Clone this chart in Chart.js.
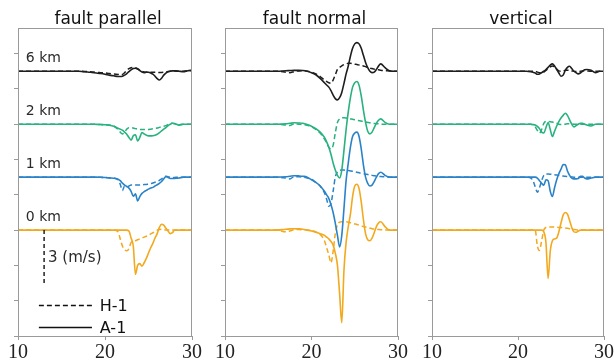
<!DOCTYPE html>
<html><head><meta charset="utf-8">
<script src="https://cdn.jsdelivr.net/npm/chart.js@4.4.1/dist/chart.umd.min.js"></script>
<style>
html,body{margin:0;padding:0;background:#fff;}
#wrap{position:relative;width:614px;height:360px;overflow:hidden;}
canvas{position:absolute;left:0;top:0;}
</style></head><body><div id="wrap">
<canvas id="c0" width="614" height="360"></canvas>
<canvas id="c1" width="614" height="360"></canvas>
<canvas id="c2" width="614" height="360"></canvas>
</div>
<script>
// ---------- DATA ----------
const times = [10,16,17,17.5,18,18.5,19,19.5, 20,20.5,21,21.5,21.75, 22,22.25,22.5,22.75, 23,23.25,23.5,23.75, 24,24.25,24.5,24.75, 25,25.25,25.5,25.75, 26,26.25,26.5,26.75, 27,27.25,27.5,27.75, 28,28.5,29,29.5,30];
const components = ['fault parallel','fault normal','vertical'];
const stations = ['0 km','1 km','2 km','6 km'];
const stationOffsets = [0,3,6,9];
const xTicks = [10,20,30];
const yTicks = [-6,-4,-2,0,2,4,6,8,10];
const scaleBarValue = 3; // (m/s)

// fault parallel
const fp_A1_0 = [0,0,0,0,0,0,0,0, 0,0,0,0,0, 0,0,0,-0.05, -0.45,-0.9,-2.5,-2.0, -1.9,-2.05,-1.85,-1.6, -1.3,-1.0,-0.75,-0.45, -0.2,0.15,0.33,0.28, 0.1,-0.05,-0.2,-0.15, 0,0,0,0,0];
const fp_H1_0 = [0,0,0,0,0,0,0,0, 0,0,0,-0.1,-0.5, -0.9,-1.1,-1.17,-1.05, -0.7,-0.65,-0.6,-0.55, -0.5,-0.45,-0.4,-0.35, -0.3,-0.22,-0.15,-0.08, 0,0.04,0.05,0.03, 0,0,0,0, 0,0,0,0,0];
const fp_A1_1 = [0,0,0,0,0,0,0,-0.01, -0.02,-0.04,-0.06,-0.12,-0.2, -0.34,-0.45,-0.53,-0.62, -0.8,-1.08,-0.95,-1.35, -1.1,-0.92,-0.82,-0.75, -0.68,-0.62,-0.58,-0.5, -0.43,-0.35,-0.25,-0.1, 0.03,-0.02,-0.08,-0.08, -0.07,-0.05,0,0,0.02];
const fp_H1_1 = [0,0,0,0,0,0,0,-0.01, -0.02,-0.04,-0.06,-0.15,-0.4, -0.75,-0.5,-0.55,-0.5, -0.45,-0.45,-0.45,-0.45, -0.45,-0.44,-0.42,-0.41, -0.4,-0.37,-0.33,-0.29, -0.25,-0.18,-0.1,-0.02, 0.05,0.03,-0.02,-0.03, -0.02,0,0,0,0];
const fp_A1_2 = [0,0,0,0,0,0,-0.01,-0.02, -0.03,-0.06,-0.12,-0.23,-0.28, -0.34,-0.45,-0.57,-0.75, -0.9,-0.66,-0.6,-0.95, -0.75,-0.47,-0.55,-0.62, -0.66,-0.66,-0.65,-0.62, -0.57,-0.48,-0.38,-0.28, -0.19,-0.08,0,0.05, 0.04,-0.05,0,0,0];
const fp_H1_2 = [0,0,0,0,0,0,-0.01,-0.02, -0.03,-0.05,-0.1,-0.3,-0.45, -0.55,-0.45,-0.28,-0.2, -0.2,-0.22,-0.25,-0.28, -0.3,-0.3,-0.3,-0.3, -0.3,-0.28,-0.26,-0.24, -0.22,-0.18,-0.15,-0.12, -0.08,-0.02,0.04,0.05, 0.02,-0.03,0,0,0];
const fp_A1_6 = [0,0,0,-0.02,-0.04,-0.07,-0.1,-0.13, -0.17,-0.22,-0.26,-0.3,-0.3, -0.28,-0.22,-0.13,-0.02, 0.08,0.15,0.17,0.12, 0.04,-0.04,-0.08,-0.05, -0.06,-0.1,-0.16,-0.28, -0.42,-0.5,-0.4,-0.22, -0.1,-0.03,0,0.02, 0.02,0,-0.02,0.03,0.06];
const fp_H1_6 = [0,0,0,-0.01,-0.02,-0.04,-0.06,-0.08, -0.1,-0.13,-0.15,-0.18,-0.2, -0.18,-0.08,0.05,0.15, 0.2,0.22,0.2,0.14, 0.07,0,-0.04,-0.06, -0.06,-0.06,-0.05,-0.05, -0.06,-0.07,-0.07,-0.06, -0.04,-0.02,0,0.02, 0.02,0,0,0.02,0.03];

// fault normal
const fn_A1_0 = [0,0,0.05,0.07,0.08,0.07,0.05,0, -0.05,-0.12,-0.2,-0.3,-0.4, -0.5,-0.65,-0.85,-1.3, -2.0,-3.6,-5.25,-2.3, -0.7,0.2,0.9,1.9, 2.5,2.6,2.35,1.6, 0.6,-0.2,-0.55,-0.6, -0.45,-0.15,0.2,0.4, 0.47,0.2,0,0,0];
const fn_H1_0 = [0,0,-0.1,-0.05,0.02,0.03,0.02,0, -0.03,-0.1,-0.25,-0.6,-1.0, -1.4,-1.85,-1.2,-0.2, 0.3,0.45,0.48,0.48, 0.47,0.45,0.42,0.38, 0.35,0.32,0.28,0.24, 0.2,0.17,0.14,0.11, 0.08,0.06,0.05,0.03, 0.02,0.01,0,0,0];
const fn_A1_1 = [0,0,0.02,0.05,0.08,0.07,0.05,0, -0.15,-0.3,-0.5,-0.8,-1.0, -1.2,-1.55,-2.0,-2.6, -3.3,-3.95,-3.3,-1.8, -0.2,0.8,1.7,2.3, 2.5,2.55,2.3,1.6, 0.7,0,-0.35,-0.5, -0.45,-0.25,0,0.2, 0.28,0.1,0,0,0];
const fn_H1_1 = [0,0,-0.05,-0.1,0.03,0.02,0,-0.05, -0.12,-0.3,-0.5,-0.9,-1.25, -1.65,-1.5,-0.8,0, 0.3,0.38,0.4,0.4, 0.38,0.37,0.35,0.33, 0.3,0.28,0.25,0.22, 0.2,0.17,0.15,0.12, 0.1,0.08,0.06,0.05, 0.03,0.02,0,0,0];
const fn_A1_2 = [0,0,0.02,0.05,0.08,0.07,0.05,-0.02, -0.12,-0.25,-0.45,-0.75,-1.0, -1.3,-1.7,-2.2,-2.6, -2.9,-3.05,-2.6,-1.5, -0.3,0.7,1.5,2.1, 2.35,2.42,2.2,1.6, 0.8,0.1,-0.4,-0.55, -0.45,-0.2,0.05,0.22, 0.3,0.1,0,0,0];
const fn_H1_2 = [0,0,-0.05,-0.08,0.02,0,-0.02,-0.06, -0.15,-0.3,-0.5,-0.85,-1.05, -1.3,-1.4,-1.2,-0.5, 0.1,0.3,0.36,0.36, 0.35,0.33,0.3,0.28, 0.25,0.22,0.2,0.18, 0.15,0.12,0.1,0.08, 0.05,0.04,0.03,0.02, 0,0,0,0,0];
const fn_A1_6 = [0,0,0.03,0.04,0.05,0.05,0.04,0, -0.08,-0.2,-0.4,-0.65,-0.78, -0.9,-1.1,-1.35,-1.55, -1.62,-1.5,-1.2,-0.7, -0.15,0.3,0.85,1.3, 1.55,1.62,1.55,1.3, 0.9,0.5,0.2,0, -0.08,-0.05,0.1,0.3, 0.42,0.2,0.03,0,0];
const fn_H1_6 = [0,0,-0.05,-0.08,-0.02,0.02,0.03,0, -0.05,-0.15,-0.3,-0.5,-0.58, -0.65,-0.68,-0.5,-0.2, 0.1,0.22,0.3,0.38, 0.42,0.45,0.45,0.43, 0.4,0.38,0.35,0.32, 0.3,0.26,0.22,0.18, 0.15,0.12,0.1,0.08, 0.05,0.03,0.02,0,0];

// vertical
const vt_A1_0 = [0,0,0,0,0,0,0,0, 0,0,0,0,0, 0,0,0,0, -0.1,-0.7,-2.75,-1.2, -0.6,-0.5,-0.45,-0.1, 0.4,0.85,1.0,0.9, 0.55,0.15,-0.1,-0.12, -0.05,0,0,0, 0,0,0,0,0];
const vt_H1_0 = [0,0,0,0,0,0,0,0, 0,0,0,0,0, 0,-0.9,-1.15,-0.6, 0,0.15,0.18,0.18, 0.18,0.17,0.16,0.15, 0.15,0.13,0.12,0.1, 0.08,0.06,0.04,0.02, 0,0,0,0, 0,0,0,0,0];
const vt_A1_1 = [0,0,0,0,0,0,0,0, 0,0,0,0,0, 0,-0.05,-0.2,-0.35, -0.45,-0.15,-0.2,-0.8, -1.1,-0.6,-0.15,0.2, 0.45,0.72,0.7,0.35, 0.1,-0.05,-0.1,-0.1, -0.08,0.05,0.05,-0.05, -0.1,-0.05,0,0,0];
const vt_H1_1 = [0,0,0,0,0,0,0,0, 0,0,0,-0.05,-0.2, -0.55,-0.85,-0.6,-0.2, 0.1,0.18,0.18,0.17, 0.15,0.14,0.12,0.1, 0.08,0.06,0.05,0.03, 0.02,0.01,0,0, 0,0,0,0, 0,0,0,0,0];
const vt_A1_2 = [0,0,0,0,0,0,0,0, 0,0,0,0,-0.02, -0.05,-0.12,-0.25,-0.45, -0.5,-0.2,0.1,-0.3, -0.7,-0.4,-0.1,0.15, 0.35,0.5,0.62,0.5, 0.25,0,-0.15,-0.08, 0,0.05,0.05,0, -0.05,-0.1,0,0,0];
const vt_H1_2 = [0,0,0,0,0,0,0,0, 0,0,0,0,-0.05, -0.15,-0.35,-0.5,-0.3, 0.05,0.15,0.15,0.14, 0.12,0.08,0.05,0, -0.02,-0.02,0,0.02, 0.02,0.02,0,0, 0,0,0,0, 0,0,0,0,0];
const vt_A1_6 = [0,0,0,0,0,0,0,0, 0,0,0,-0.03,-0.06, -0.1,-0.17,-0.15,-0.08, 0,0.1,0.22,0.35, 0.42,0.3,0.1,-0.1, -0.28,-0.22,0.05,0.22, 0.28,0.15,0,-0.08, -0.15,-0.1,0,0.08, 0.1,0.05,-0.08,0,0];
const vt_H1_6 = [0,0,0,0,0,0,0,0, 0,0,0,0,0, 0,-0.05,-0.08,-0.1, -0.05,0.05,0.15,0.25, 0.3,0.25,0.12,0.02, 0,0.02,0.05,0.06, 0.05,0.02,0,-0.02, -0.02,0,0.02,0.03, 0.02,0,0,0,0];

const A1 = [[fp_A1_0,fp_A1_1,fp_A1_2,fp_A1_6],[fn_A1_0,fn_A1_1,fn_A1_2,fn_A1_6],[vt_A1_0,vt_A1_1,vt_A1_2,vt_A1_6]];
const H1 = [[fp_H1_0,fp_H1_1,fp_H1_2,fp_H1_6],[fn_H1_0,fn_H1_1,fn_H1_2,fn_H1_6],[vt_H1_0,vt_H1_1,vt_H1_2,vt_H1_6]];

// ---------- STYLE / LAYOUT ----------
const stationColors = ['#f2a91e','#2a83c9','#27b27e','#1e1e1e'];
const panelBoxes = [ {left:18,right:192}, {left:225,right:398}, {left:432,right:604} ];
const W = 614, H = 360, TOP = 28, BOTTOM = 336, YAXW = 14, XAXH = 24;
const FRAME = '#9a9a9a';

const decor = {
  id: 'panelDecor',
  afterDraw(chart, args, o) {
    const ctx = chart.ctx, a = chart.chartArea;
    const xs = chart.scales.x, ys = chart.scales.y;
    ctx.save();
    ctx.strokeStyle = FRAME; ctx.lineWidth = 1;
    ctx.strokeRect(Math.round(a.left)+0.5, Math.round(a.top)+0.5, Math.round(a.right-a.left)-1, Math.round(a.bottom-a.top));
    ctx.fillStyle = '#111';
    ctx.font = '17px "DejaVu Sans"';
    ctx.textAlign = 'center'; ctx.textBaseline = 'alphabetic';
    ctx.fillText(o.title, (a.left + a.right)/2 + 3, 24);
    if (o.notes) {
      ctx.fillStyle = '#2a2a2a';
      ctx.textAlign = 'left';
      ctx.font = '14px "DejaVu Sans"';
      stations.forEach((s, i) => {
        ctx.fillText(s, xs.getPixelForValue(10.9), ys.getPixelForValue(stationOffsets[i]) - 9);
      });
      ctx.font = '15px "DejaVu Sans"';
      ctx.fillText(scaleBarValue + ' (m/s)', xs.getPixelForValue(13.45), ys.getPixelForValue(-1.78));
      // legend
      const items = [{label:'H-1', dash:[5,3], y:-4.25}, {label:'A-1', dash:[], y:-5.5}];
      ctx.font = '16px "DejaVu Sans"';
      items.forEach(it => {
        const py = Math.round(ys.getPixelForValue(it.y)) + 0.5;
        ctx.strokeStyle = '#111'; ctx.lineWidth = 1.5; ctx.setLineDash(it.dash);
        ctx.beginPath(); ctx.moveTo(xs.getPixelForValue(12.4), py); ctx.lineTo(xs.getPixelForValue(18.5), py); ctx.stroke();
        ctx.setLineDash([]);
        ctx.fillStyle = '#111';
        ctx.fillText(it.label, xs.getPixelForValue(19.4), py + 5.5);
      });
    }
    ctx.restore();
  }
};

function makePanel(p) {
  const datasets = [];
  stations.forEach((s, i) => {
    datasets.push({
      label: s + ' A-1',
      data: times.map((t, k) => ({x: t, y: A1[p][i][k] + stationOffsets[i]})),
      borderColor: stationColors[i], borderWidth: 1.6, pointRadius: 0,
      cubicInterpolationMode: 'monotone', order: 1
    });
    datasets.push({
      label: s + ' H-1',
      data: times.map((t, k) => ({x: t, y: H1[p][i][k] + stationOffsets[i]})),
      borderColor: stationColors[i], borderWidth: 1.5, borderDash: [5,3], pointRadius: 0,
      cubicInterpolationMode: 'monotone', order: 2
    });
  });
  if (p === 0) {
    datasets.push({
      label: 'scale', data: [{x:13, y:0}, {x:13, y:-scaleBarValue}],
      borderColor: '#222', borderWidth: 1.5, borderDash: [4,3], pointRadius: 0, tension: 0, order: 0
    });
  }
  const box = panelBoxes[p];
  new Chart(document.getElementById('c' + p), {
    type: 'line',
    data: { datasets },
    options: {
      responsive: false, animation: false, devicePixelRatio: 1,
      layout: { padding: { left: box.left - YAXW, right: W - box.right, top: TOP, bottom: H - BOTTOM - XAXH } },
      plugins: { legend: {display:false}, tooltip: {enabled:false}, title: {display:false},
                 panelDecor: { title: components[p], notes: p === 0 } },
      scales: {
        x: {
          type: 'linear', min: 10, max: 30,
          afterBuildTicks: s => { s.ticks = xTicks.map(v => ({value: v})); },
          afterFit: s => { s.height = XAXH; s.paddingLeft = 0; s.paddingRight = 0; },
          ticks: { font: {family: '"Liberation Serif"', size: 20}, color: '#222', padding: 1, maxRotation: 0, autoSkip: false },
          grid: { display: true, drawOnChartArea: false, drawTicks: true, tickLength: 4, color: FRAME },
          border: { display: false }
        },
        y: {
          type: 'linear', min: -6, max: 11.45,
          afterBuildTicks: s => { s.ticks = yTicks.map(v => ({value: v})); },
          afterFit: s => { s.width = YAXW; s.paddingTop = 0; s.paddingBottom = 0; },
          ticks: { callback: () => '', padding: 0 },
          grid: { display: true, drawOnChartArea: false, drawTicks: true, tickLength: 4, color: FRAME },
          border: { display: false }
        }
      }
    },
    plugins: [decor]
  });
}
[0,1,2].forEach(makePanel);
</script>
</body></html>
